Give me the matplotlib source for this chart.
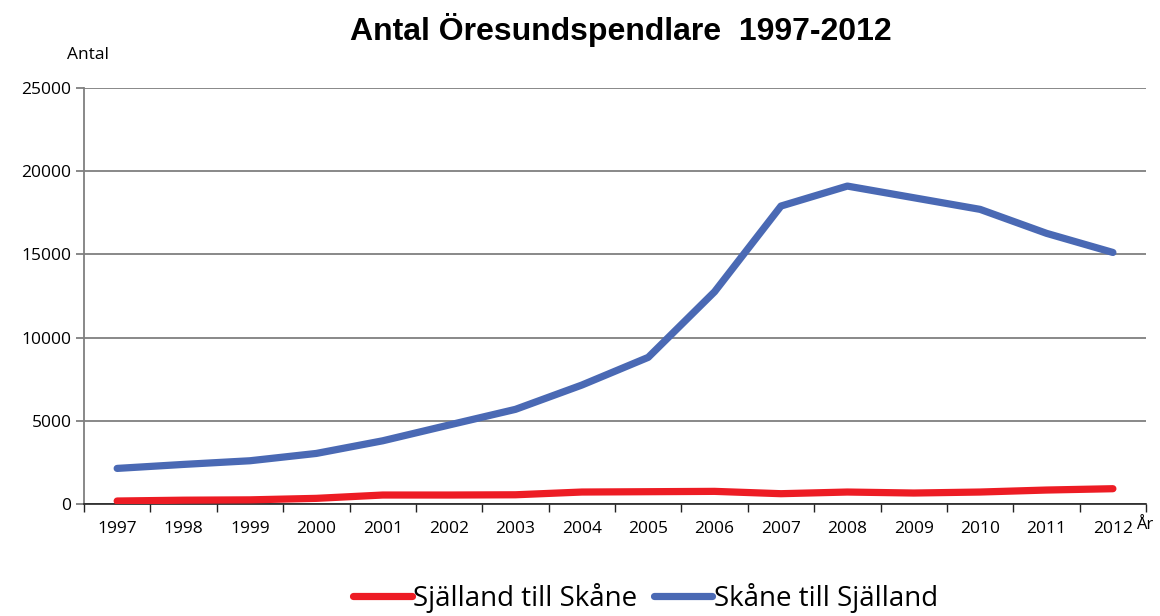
import numpy as np
import matplotlib
matplotlib.use("Agg")
import matplotlib.pyplot as plt

# Data
years = ["1997", "1998", "1999", "2000", "2001", "2002", "2003", "2004",
         "2005", "2006", "2007", "2008", "2009", "2010", "2011", "2012"]
sjalland_till_skane = [180, 230, 250, 340, 540, 540, 555, 720,
                       740, 760, 620, 720, 660, 720, 840, 920]
skane_till_sjalland = [2140, 2380, 2600, 3040, 3800, 4750, 5690, 7150,
                       8815, 12760, 17910, 19110, 18410, 17710, 16270, 15120]
y_ticks = [0, 5000, 10000, 15000, 20000, 25000]

plt.rcParams['font.family'] = ['Open Sans', 'DejaVu Sans']

fig = plt.figure(figsize=(11.6, 6.16), dpi=100)
ax = fig.add_axes([0.0724, 0.1818, 0.9156, 0.6752])

x = np.arange(len(years))
ax.plot(x, sjalland_till_skane, color='#ED1C24', lw=5.2, solid_capstyle='round',
        label='Själland till Skåne', zorder=3)
ax.plot(x, skane_till_sjalland, color='#4A69B4', lw=5.2, solid_capstyle='round',
        label='Skåne till Själland', zorder=3)

ax.set_xlim(-0.5, len(years) - 0.5)
ax.set_ylim(0, 25000)
ax.set_yticks(y_ticks)
ax.set_yticklabels([str(v) for v in y_ticks], fontsize=12.5)
ax.yaxis.grid(True, color='#7f7f7f', lw=1.3)
ax.set_axisbelow(True)

# category ticks between the years, labels in the middle
ax.set_xticks(np.arange(len(years) + 1) - 0.5)
ax.set_xticklabels([])
ax.set_xticks(x, minor=True)
ax.set_xticklabels(years, minor=True, fontsize=12.5)
ax.tick_params(axis='x', which='major', length=6, color='#222222', width=1)
ax.tick_params(axis='x', which='minor', length=0, pad=12)
ax.tick_params(axis='y', length=6, color='#7f7f7f', width=1.3, pad=3)

for side in ['top', 'right']:
    ax.spines[side].set_visible(False)
ax.spines['left'].set_color('#7f7f7f')
ax.spines['left'].set_linewidth(1.3)
ax.spines['bottom'].set_color('#222222')
ax.spines['bottom'].set_linewidth(1.2)

fig.text(0.5355, 0.952, 'Antal Öresundspendlare  1997-2012', ha='center', va='center',
         fontsize=23, fontweight='bold', family=['Liberation Sans', 'DejaVu Sans'])
fig.text(0.0755, 0.91, 'Antal', ha='center', va='center', fontsize=12.5)
fig.text(0.9795, 0.147, 'År', ha='left', va='center', fontsize=12)

fig.legend(loc='center', bbox_to_anchor=(0.5565, 0.03), ncol=2, frameon=False,
           fontsize=20, handlelength=2.1, handletextpad=0.05, columnspacing=0.6)

fig.savefig('out.png', dpi=100)
